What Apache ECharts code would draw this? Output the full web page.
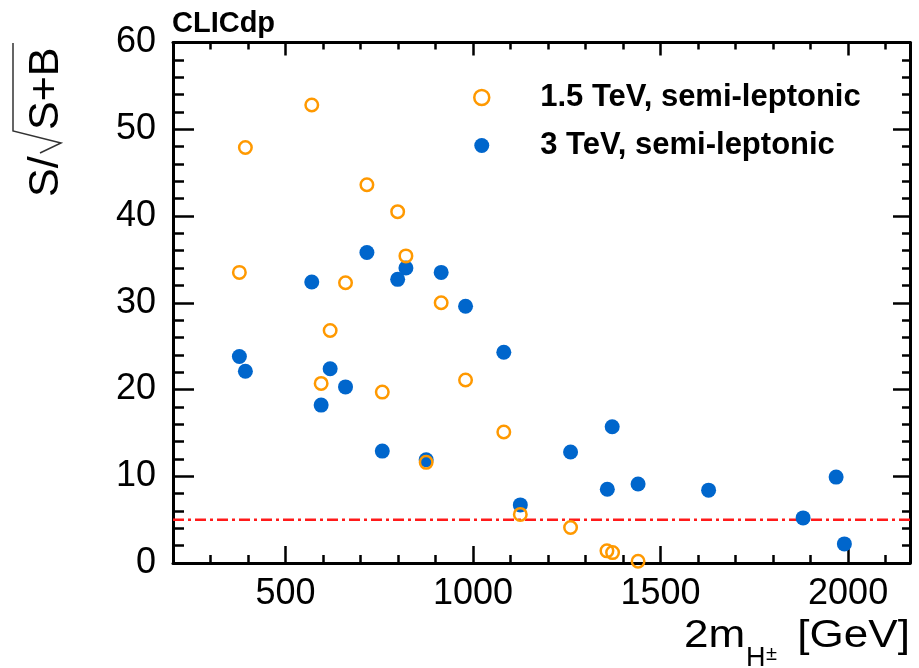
<!DOCTYPE html>
<html>
<head>
<meta charset="utf-8">
<title>CLICdp S/sqrt(S+B)</title>
<script src="https://cdn.jsdelivr.net/npm/echarts@6/dist/echarts.min.js"></script>
<style>
  html, body { margin: 0; padding: 0; background: #fff; }
  #chart { width: 919px; height: 668px; }
</style>
</head>
<body>
<div id="chart"></div>
<script>
// 2 m_H+- [GeV] and S/sqrt(S+B)
var massLow = [377, 393, 570, 595, 619, 660, 717, 758, 799, 821, 875, 915, 980, 1082, 1126, 1260, 1357, 1372, 1440];
var sigLow  = [33.5, 47.9, 52.8, 20.7, 26.8, 32.3, 43.6, 19.7, 40.5, 35.4, 11.6, 30.0, 21.1, 15.1, 5.6, 4.1, 1.4, 1.2, 0.2];

var massHigh = [377, 393, 570, 595, 619, 660, 717, 758, 799, 821, 875, 915, 980, 1082, 1126, 1260, 1358, 1371, 1440, 1628, 1880, 1968, 1990];
var sigHigh  = [23.8, 22.1, 32.4, 18.2, 22.4, 20.3, 35.8, 12.9, 32.7, 34.0, 11.9, 33.5, 29.6, 24.3, 6.7, 12.8, 8.5, 15.7, 9.1, 8.4, 5.2, 9.9, 2.2];

var seriesNames = ['1.5 TeV, semi-leptonic', '3 TeV, semi-leptonic'];
var threshold = 5;      // red dash-dot line
var xRange = [200, 2165];
var yRange = [0, 60];

var FONT = 'Liberation Sans, Arial, Helvetica, sans-serif';
var ORANGE = '#ff9900';
var BLUE = '#0066cc';

function pairs(xs, ys) {
  var out = [];
  for (var i = 0; i < xs.length; i++) out.push([xs[i], ys[i]]);
  return out;
}

// x axes: one with the labelled (major) ticks, one with the 100 GeV minor ticks, mirrored on top
function xAxisDef(pos, major, tickLen) {
  var a = {
    type: 'value', position: pos, min: xRange[0], max: xRange[1],
    axisLine: { show: major, onZero: false, lineStyle: { color: '#000', width: 3 } },
    axisTick: { show: true, inside: true, length: tickLen, lineStyle: { color: '#000', width: 2.5 } },
    axisLabel: { show: false },
    splitLine: { show: false }
  };
  if (major) {
    a.splitNumber = 4; a.minInterval = 500; a.maxInterval = 500;
  } else {
    a.interval = 100;
  }
  if (major && pos === 'bottom') {
    a.axisLabel = { show: true, color: '#000', fontFamily: FONT, fontSize: 36, margin: 13,
                    showMinLabel: false, showMaxLabel: false,
                    formatter: function (v) { return String(v); } };
  }
  return a;
}

function yAxisDef(pos, tickLen, minorLen) {
  return {
    type: 'value', position: pos, min: yRange[0], max: yRange[1], interval: 10,
    axisLine: { show: true, onZero: false, lineStyle: { color: '#000', width: 3 } },
    axisTick: { show: true, inside: true, length: tickLen, lineStyle: { color: '#000', width: 2.5 } },
    minorTick: { show: true, splitNumber: 5, length: minorLen, lineStyle: { color: '#000', width: 2.5 } },
    axisLabel: pos === 'left'
      ? { show: true, color: '#000', fontFamily: FONT, fontSize: 36, margin: 17 }
      : { show: false },
    splitLine: { show: false }
  };
}

var chart = echarts.init(document.getElementById('chart'), null, { renderer: 'canvas' });

chart.setOption({
  animation: false,
  backgroundColor: '#fff',
  grid: { left: 173, right: 9, top: 42.5, bottom: 105, outerBoundsMode: 'none' },
  xAxis: [
    xAxisDef('bottom', true, 17),
    xAxisDef('bottom', false, 8),
    xAxisDef('top', true, 13),
    xAxisDef('top', false, 7)
  ],
  yAxis: [
    yAxisDef('left', 21, 11),
    yAxisDef('right', 17, 8)
  ],
  legend: {
    orient: 'vertical',
    left: 468, top: 77,
    itemWidth: 15, itemHeight: 15, itemGap: 17,
    textStyle: { color: '#000', fontFamily: FONT, fontSize: 31, fontWeight: 'bold',
                 lineHeight: 30, padding: [0, 0, 0, 46] },
    data: [
      { name: seriesNames[0], icon: 'circle',
        itemStyle: { color: 'rgba(0,0,0,0)', borderColor: ORANGE, borderWidth: 2.5 } },
      { name: seriesNames[1], icon: 'circle', itemStyle: { color: BLUE } }
    ]
  },
  series: [
    {
      type: 'line', silent: true, z: 1,
      data: [[xRange[0], threshold], [xRange[1], threshold]],
      symbol: 'none',
      lineStyle: { color: '#ff1a1a', width: 2.5, type: [11, 4, 3, 4] }
    },
    {
      name: seriesNames[1], type: 'scatter', z: 2,
      data: pairs(massHigh, sigHigh),
      symbol: 'circle', symbolSize: 15,
      itemStyle: { color: BLUE, opacity: 1 }
    },
    {
      name: seriesNames[0], type: 'scatter', z: 3,
      data: pairs(massLow, sigLow),
      symbol: 'circle', symbolSize: 12.5,
      itemStyle: { color: 'rgba(0,0,0,0)', borderColor: ORANGE, borderWidth: 2.5, opacity: 1 }
    }
  ],
  graphic: [
    // CLICdp label
    { type: 'text', x: 172, y: 24,
      style: { text: 'CLICdp', fill: '#000', fontFamily: FONT, fontSize: 29, fontWeight: 'bold',
               align: 'left', verticalAlign: 'middle' } },
    // y title  S/sqrt(S+B), rotated
    { type: 'text', x: 46, y: 197, rotation: Math.PI / 2,
      style: { text: 'S/', fill: '#000', fontFamily: FONT, fontSize: 43,
               align: 'left', verticalAlign: 'middle' } },
    { type: 'text', x: 46, y: 130, rotation: Math.PI / 2,
      style: { text: 'S+B', fill: '#000', fontFamily: FONT, fontSize: 43,
               align: 'left', verticalAlign: 'middle' } },
    { type: 'polyline',
      shape: { points: [[13, 43], [13, 131], [61, 143], [40, 153]] },
      style: { stroke: '#333', lineWidth: 1.5, fill: null } },
    // x title  2m_{H^{+-}} [GeV]  (font is a bit wide in the original)
    { type: 'text', x: 684, y: 636, scaleX: 1.13,
      style: { text: '2m', fill: '#000', fontFamily: FONT, fontSize: 39,
               align: 'left', verticalAlign: 'middle' } },
    { type: 'text', x: 746, y: 659,
      style: { text: 'H', fill: '#000', fontFamily: FONT, fontSize: 27,
               align: 'left', verticalAlign: 'middle' } },
    { type: 'text', x: 766, y: 654,
      style: { text: '\u00b1', fill: '#000', fontFamily: FONT, fontSize: 20,
               align: 'left', verticalAlign: 'middle' } },
    { type: 'text', x: 910, y: 636, scaleX: 1.13,
      style: { text: '[GeV]', fill: '#000', fontFamily: FONT, fontSize: 39,
               align: 'right', verticalAlign: 'middle' } }
  ]
});
</script>
</body>
</html>
